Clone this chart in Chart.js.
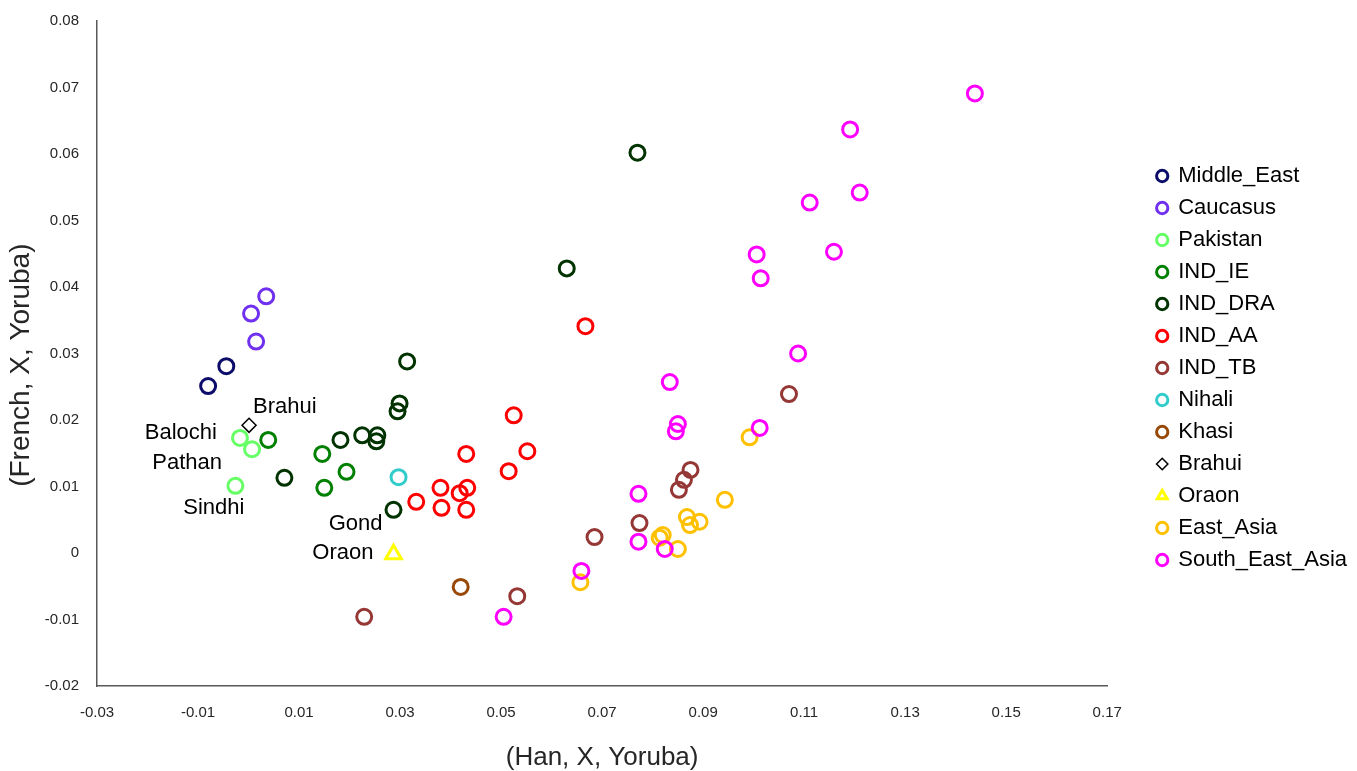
<!DOCTYPE html>
<html>
<head>
<meta charset="utf-8">
<script src="https://cdn.jsdelivr.net/npm/chart.js@4"></script>
<style>
  body { margin: 0; background: #fff; }
  #wrap { width: 1357px; height: 771px; }
</style>
</head>
<body>
<div id="wrap"><canvas id="chart" width="1357" height="771"></canvas></div>
<script>
// Population groups (legend order)
const groups = ['Middle_East', 'Caucasus', 'Pakistan', 'IND_IE', 'IND_DRA', 'IND_AA', 'IND_TB',
                'Nihali', 'Khasi', 'Brahui', 'Oraon', 'East_Asia', 'South_East_Asia'];

// f3 values: [ (Han, X, Yoruba), (French, X, Yoruba) ]
const middleEast = [[-0.0080, 0.0251], [-0.0044, 0.0281]];
const caucasus = [[0.0035, 0.0386], [0.0005, 0.0360], [0.0015, 0.0318]];
const pakistan = [[-0.0017, 0.0173], [0.0007, 0.0156], [-0.0026, 0.0101]];
const indIE = [[0.0039, 0.0170], [0.0146, 0.0149], [0.0194, 0.0122], [0.0150, 0.0098]];
const indDRA = [[0.0071, 0.0113], [0.0182, 0.0170], [0.0225, 0.0177], [0.0255, 0.0177], [0.0253, 0.0168],
                [0.0299, 0.0225], [0.0295, 0.0213], [0.0314, 0.0288], [0.0287, 0.0065], [0.0630, 0.0428],
                [0.0770, 0.0602]];
const indAA = [[0.0332, 0.0077], [0.0380, 0.0098], [0.0382, 0.0068], [0.0418, 0.0090], [0.0433, 0.0098],
               [0.0431, 0.0065], [0.0431, 0.0149], [0.0515, 0.0123], [0.0552, 0.0153], [0.0525, 0.0207],
               [0.0667, 0.0341]];
const indTB = [[0.0229, -0.0096], [0.0532, -0.0065], [0.0685, 0.0024], [0.0774, 0.0045], [0.0875, 0.0125],
               [0.0862, 0.0110], [0.0852, 0.0095], [0.1070, 0.0239]];
const nihali = [[0.0297, 0.0114]];
const khasi = [[0.0420, -0.0051]];
const brahui = [[0.0001, 0.0192]];
const oraon = [[0.0287, -0.0002]];
const eastAsia = [[0.0657, -0.0044], [0.0814, 0.0023], [0.0820, 0.0027], [0.0850, 0.0006], [0.0868, 0.0054],
                  [0.0874, 0.0042], [0.0893, 0.0047], [0.0943, 0.0080], [0.0992, 0.0174]];
const seAsia = [[0.0659, -0.0027], [0.0772, 0.0089], [0.0772, 0.0017], [0.0824, 0.0006], [0.0834, 0.0257],
                [0.0850, 0.0194], [0.0846, 0.0183], [0.1012, 0.0188], [0.1088, 0.0300], [0.0505, -0.0096],
                [0.1006, 0.0449], [0.1014, 0.0413], [0.1111, 0.0527], [0.1159, 0.0453], [0.1210, 0.0542],
                [0.1191, 0.0637], [0.1438, 0.0691]];

// Axis ticks
const xTicks = [-0.03, -0.01, 0.01, 0.03, 0.05, 0.07, 0.09, 0.11, 0.13, 0.15, 0.17];
const yTicks = [-0.02, -0.01, 0, 0.01, 0.02, 0.03, 0.04, 0.05, 0.06, 0.07, 0.08];

// Named points in the plot
const noteNames = ['Brahui', 'Balochi', 'Pathan', 'Sindhi', 'Gond', 'Oraon'];

const groupData = [middleEast, caucasus, pakistan, indIE, indDRA, indAA, indTB,
                   nihali, khasi, brahui, oraon, eastAsia, seAsia];
const colors = ['#0c0c6a', '#7030f0', '#66ff66', '#008000', '#003300', '#ff0000', '#953735',
                '#33cccc', '#984807', '#000000', '#ffff00', '#ffc000', '#ff00ff'];

const datasets = groups.map((name, i) => {
  const ds = {
    label: name,
    data: groupData[i].map(p => ({ x: p[0], y: p[1] })),
    borderColor: colors[i],
    backgroundColor: 'rgba(0,0,0,0)',
    pointStyle: 'circle',
    pointRadius: 7.5,
    pointHoverRadius: 7.5,
    borderWidth: 3,
    order: groups.length - i
  };
  if (name === 'Brahui') {
    ds.pointStyle = 'rectRot';
    ds.pointRadius = 7;
    ds.borderWidth = 1.5;
  }
  if (name === 'Oraon') {
    ds.pointStyle = 'triangle';
    ds.pointRadius = 9;
  }
  return ds;
});

// which point each name belongs to: [datasetIndex, pointIndex, dx, dy, align]
const notePlaces = [[9, 0, 4, -18, 'left'], [2, 0, -23, -5, 'right'], [2, 1, -30, 14, 'right'],
                    [2, 2, 9, 22, 'right'], [4, 8, -11, 14, 'right'], [10, 0, -20, -1, 'right']];

const pointNotes = {
  id: 'pointNotes',
  afterDatasetsDraw(chart) {
    const ctx = chart.ctx;
    ctx.save();
    ctx.font = '22px "Liberation Sans", Arial, sans-serif';
    ctx.fillStyle = '#000';
    ctx.textBaseline = 'middle';
    noteNames.forEach((txt, k) => {
      const [d, j, dx, dy, align] = notePlaces[k];
      const el = chart.getDatasetMeta(d).data[j];
      ctx.textAlign = align;
      ctx.fillText(txt, el.x + dx, el.y + dy);
    });
    ctx.restore();
  }
};

// push the legend away from the plot area, like the original
const legendGap = {
  id: 'legendGap',
  beforeInit(chart) {
    const lg = chart.legend;
    const fit = lg.fit;
    lg.fit = function () { fit.call(this); this.width += 40; };
  },
  afterLayout(chart) {
    const lg = chart.legend;
    lg.left += 40; lg.right += 40;
    lg.top -= 28; lg.bottom -= 28;
  }
};

const fmt = v => (Math.abs(v) < 1e-9 ? '0' : v.toFixed(2));

const ctx = document.getElementById('chart').getContext('2d');
const myChart = new Chart(ctx, {
  type: 'scatter',
  data: { datasets: datasets },
  options: {
    responsive: false,
    animation: false,
    layout: { padding: { top: 21, left: 0, right: 0, bottom: 0 } },
    plugins: {
      tooltip: { enabled: false },
      legend: {
        position: 'right',
        labels: {
          usePointStyle: true,
          boxWidth: 10,
          boxHeight: 8,
          padding: 10,
          color: '#000',
          font: { size: 22, family: '"Liberation Sans", Arial, sans-serif' },
          sort: (a, b) => a.datasetIndex - b.datasetIndex
        }
      }
    },
    scales: {
      x: {
        type: 'linear',
        min: -0.03,
        max: 0.17,
        afterBuildTicks: s => { s.ticks = xTicks.map(v => ({ value: v })); },
        afterFit: s => { s.height = 85; },
        grid: { display: false, drawTicks: false },
        border: { display: true, color: '#595959', width: 1.5 },
        ticks: {
          padding: 18,
          color: '#262626',
          maxRotation: 0,
          font: { size: 15, family: '"Liberation Sans Narrow", "Liberation Sans", Arial, sans-serif' },
          callback: v => fmt(v)
        },
        title: {
          display: true,
          text: '(Han, X, Yoruba)',
          color: '#262626',
          padding: { top: 0, bottom: 0 },
          font: { size: 26, lineHeight: 1.05, family: '"Liberation Sans Narrow", "Liberation Sans", Arial, sans-serif' }
        }
      },
      y: {
        type: 'linear',
        min: -0.02,
        max: 0.08,
        afterBuildTicks: s => { s.ticks = yTicks.map(v => ({ value: v })); },
        afterFit: s => { s.width = 97; s.paddingTop = 8; s.paddingBottom = 8; },
        grid: { display: false, drawTicks: false },
        border: { display: true, color: '#595959', width: 1.5 },
        ticks: {
          padding: 18,
          color: '#262626',
          font: { size: 15, family: '"Liberation Sans", Arial, sans-serif' },
          callback: v => fmt(v)
        },
        title: {
          display: true,
          text: '(French, X, Yoruba)   ',
          color: '#262626',
          padding: { top: 6, bottom: 0 },
          font: { size: 28, lineHeight: 1.1, family: '"Liberation Sans", Arial, sans-serif' }
        }
      }
    }
  },
  plugins: [pointNotes, legendGap]
});
</script>
</body>
</html>
